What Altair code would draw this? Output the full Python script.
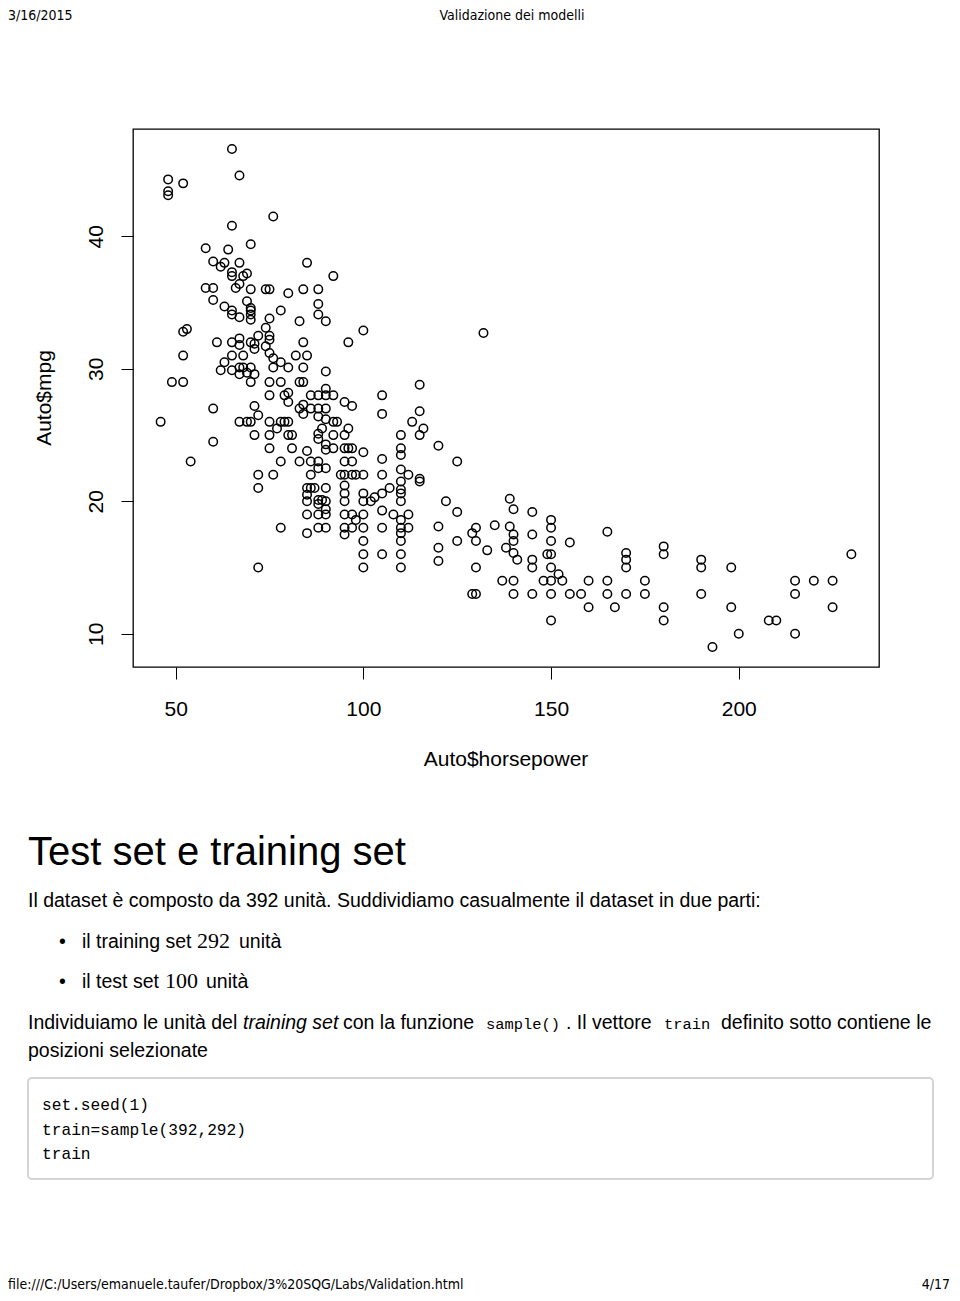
import altair as alt
import pandas as pd

# ---------------- data (Auto$horsepower vs Auto$mpg) -------------
hp_a = [65, 67, 48, 52, 48, 48, 76, 65, 70, 58, 64, 60, 63, 62, 67, 85, 65, 65, 69, 68,
        67, 92, 58, 60, 66, 70, 74, 75, 80, 84, 88, 60, 63, 65, 65, 69, 70, 70, 70, 70,
        67, 78, 75, 88, 88, 83, 90]
mpg_a = [46.6, 44.6, 44.3, 44.0, 43.4, 43.1, 41.5, 40.8, 39.4, 39.1, 39.0, 38.1, 38.0, 37.7, 38.0, 38.0, 37.3, 37.0, 37.2, 37.0,
         36.4, 37.0, 36.1, 36.1, 36.1, 36.0, 36.0, 36.0, 35.7, 36.0, 36.0, 35.2, 34.7, 34.4, 34.1, 35.1, 34.6, 34.4, 34.1, 33.7,
         33.9, 34.4, 33.8, 34.9, 34.1, 33.6, 33.6]

hp_b = [52, 53, 74, 61, 65, 67, 67, 70, 71, 71, 72, 75, 75, 74, 75, 84, 65, 68, 52, 82,
        85, 76, 78, 63, 62, 65, 67, 68, 70, 67, 69, 70, 71, 76, 80, 84, 90, 49, 52, 75,
        78, 83, 84, 75, 79, 80, 80, 83, 86, 88, 90, 92, 90, 60, 71, 72, 84, 84, 86, 88,
        90, 88, 90, 46, 67, 69, 70, 75, 78, 79, 80, 77, 92, 93, 89, 88, 88, 71, 75, 80,
        81, 92, 60, 75, 81, 85, 90, 90, 92, 54, 78, 83, 86, 88, 88, 90, 72, 76, 86, 72,
        85, 86, 87, 90, 85, 85, 88, 89, 90, 88, 85, 88, 90, 90]
mpg_b = [32.8, 33.0, 33.1, 32.0, 32.0, 32.3, 31.8, 32.0, 31.9, 31.5, 32.5, 32.5, 32.2, 31.7, 31.2, 32.0, 31.0, 31.0, 31.0, 31.0,
         31.0, 30.8, 30.5, 30.5, 29.9, 29.9, 30.1, 30.1, 30.1, 29.6, 29.7, 29.0, 29.6, 30.1, 30.1, 30.1, 29.8, 29.0, 29.0, 29.0,
         29.0, 29.0, 29.0, 28.0, 28.0, 28.2, 27.5, 27.0, 28.0, 28.0, 28.0, 28.0, 28.5, 27.0, 27.2, 26.5, 27.3, 26.6, 27.0, 27.0,
         27.0, 26.4, 26.2, 26.0, 26.0, 26.0, 26.0, 26.0, 26.0, 26.0, 26.0, 25.5, 26.0, 26.0, 25.5, 25.1, 24.7, 25.0, 25.0, 25.0,
         25.0, 25.0, 24.5, 24.0, 24.0, 23.8, 24.3, 23.9, 24.0, 23.0, 23.0, 23.0, 23.0, 23.0, 22.5, 22.5, 22.0, 22.0, 22.0, 21.0,
         21.0, 21.0, 21.0, 21.0, 20.5, 20.0, 20.1, 20.1, 20.0, 19.8, 19.0, 19.0, 19.0, 19.4]

hp_c = [100, 96, 132, 95, 97, 105, 105, 115, 115, 113, 116]
mpg_c = [32.9, 32.0, 32.7, 27.5, 27.2, 28.0, 26.6, 28.8, 26.8, 26.0, 25.5]

hp_d = [96, 115, 95, 110, 120, 125, 95, 96, 97, 100, 110, 110, 105, 95, 97, 94, 95, 97, 98, 100,
        105, 110, 112, 115, 115, 95, 95, 95, 100, 100, 110, 110, 110, 110, 107, 105, 103, 102, 122, 125,
        139, 140, 95, 97, 100, 98, 105, 108, 110, 112, 110, 112, 110, 110, 88, 90, 95, 95, 97, 100,
        105, 120, 130, 129, 130, 135, 139, 140, 140, 138, 140, 141, 125, 133, 100, 100, 100, 105, 110, 110,
        120, 120, 130, 137, 140, 78, 72, 85]
mpg_d = [25.5, 25.0, 25.0, 25.0, 24.2, 23.0, 24.0, 24.0, 24.0, 23.7, 24.0, 23.5, 23.2, 23.0, 23.0, 22.0, 22.0, 22.0, 22.0, 22.0,
         22.0, 22.4, 22.0, 21.7, 21.5, 21.2, 20.6, 20.0, 20.6, 20.0, 21.5, 20.9, 20.6, 20.0, 21.0, 20.6, 20.3, 20.0, 20.0, 19.2,
         20.2, 19.4, 19.0, 19.0, 19.0, 18.6, 19.3, 19.0, 18.6, 19.0, 18.0, 18.0, 17.6, 17.0, 18.0, 18.0, 18.0, 17.5, 18.0, 18.0,
         18.0, 18.1, 18.0, 17.6, 17.0, 18.2, 18.1, 17.5, 17.0, 16.5, 16.1, 15.6, 17.0, 16.3, 17.0, 16.0, 15.0, 16.0, 16.0, 15.0,
         16.5, 15.5, 15.0, 14.0, 14.0, 18.0, 15.0, 17.6]

hp_e = [145, 145, 145, 145, 150, 150, 150, 149, 150, 150, 155, 152, 165, 170, 170, 170, 180, 180, 190, 190,
        198, 230, 148, 150, 153, 160, 165, 175, 215, 220, 225, 129, 130, 140, 145, 150, 155, 158, 165, 170,
        175, 190, 215, 160, 167, 180, 198, 225, 150, 180, 208, 210, 200, 215, 193]
mpg_e = [19.2, 17.5, 15.6, 15.0, 18.6, 18.0, 17.0, 16.0, 16.0, 15.0, 16.9, 14.5, 17.7, 16.1, 15.6, 15.0, 16.6, 16.0, 15.6, 15.0,
         15.0, 16.0, 14, 14, 14, 14, 14, 14, 14, 14, 14, 13, 13, 13, 13, 13, 13, 13, 13, 13,
         13, 13, 13, 12, 12, 12, 12, 12, 11, 11, 11, 11, 10, 10, 9]

x_ticks = [50, 100, 150, 200]
y_ticks = [10, 20, 30, 40]
x_domain = [38.64, 237.36]
y_domain = [7.496, 48.104]

df = pd.DataFrame({
    "horsepower": hp_a + hp_b + hp_c + hp_d + hp_e,
    "mpg": mpg_a + mpg_b + mpg_c + mpg_d + mpg_e,
})

# ---------------- layout ----------------
W, H = 746, 538          # plot area
OX, OY = 133, 129        # page position of plot area
PAD = {"left": OX - 8, "top": OY - 8, "right": 944 - (OX - 8) - W, "bottom": 1285 - (OY - 8) - H}

SANS = "Liberation Sans, Arial, Helvetica, sans-serif"
NARROW = "Liberation Sans Narrow, Arial Narrow, DejaVu Sans Condensed, Liberation Sans, sans-serif"
SERIF = "Liberation Serif, Times New Roman, serif"
MONO = "Liberation Mono, DejaVu Sans Mono, monospace"

scatter = alt.Chart(df).mark_point(
    shape="circle", filled=False, size=72, strokeWidth=1.5, color="black", opacity=1
).encode(
    x=alt.X("horsepower:Q",
            scale=alt.Scale(domain=x_domain, nice=False, zero=False),
            axis=alt.Axis(values=x_ticks, title=None, grid=False, domain=False,
                          tickSize=12, tickColor="black", tickWidth=1,
                          labelFont=SANS, labelFontSize=21, labelColor="black",
                          labelBaseline="alphabetic", labelPadding=36, labelFlush=False)),
    y=alt.Y("mpg:Q",
            scale=alt.Scale(domain=y_domain, nice=False, zero=False),
            axis=alt.Axis(values=y_ticks, title=None, grid=False, domain=False,
                          tickSize=12, tickColor="black", tickWidth=1,
                          labelFont=SANS, labelFontSize=21, labelColor="black",
                          labelAngle=270, labelAlign="center", labelBaseline="alphabetic",
                          labelPadding=19, labelFlush=False)),
)


def txt(s, px, py, size, font=SANS, style="normal", angle=0, align="left", color="black"):
    return alt.Chart(pd.DataFrame({"t": [s]})).mark_text(
        align=align, baseline="alphabetic", font=font, fontSize=size,
        fontStyle=style, angle=angle, color=color
    ).encode(text="t:N", x=alt.value(px - OX), y=alt.value(py - OY))


code_box = alt.Chart(pd.DataFrame({"k": [0]})).mark_rect(
    fill="#ffffff", stroke="#d4d4d4", strokeWidth=2, cornerRadius=4
).encode(x=alt.value(28 - OX), x2=alt.value(933 - OX),
         y=alt.value(1078 - OY), y2=alt.value(1179 - OY))

texts = [
    # page header / footer
    txt("3/16/2015", 8, 20, 14, NARROW),
    txt("Validazione dei modelli", 512, 20, 14, NARROW, align="center"),
    txt("file:///C:/Users/emanuele.taufer/Dropbox/3%20SQG/Labs/Validation.html", 8, 1289, 14, NARROW),
    txt("4/17", 950, 1289, 14, NARROW, align="right"),
    # axis titles
    txt("Auto$mpg", 51, OY + H / 2, 21, angle=270, align="center"),
    txt("Auto$horsepower", OX + W / 2, 766, 21, align="center"),
    # document text
    txt("Test set e training set", 28, 865, 40),
    txt("Il dataset è composto da 392 unità. Suddividiamo casualmente il dataset in due parti:", 28, 907, 19.5),
    txt("•", 59, 948, 19.5),
    txt("il training set", 82, 948, 19.5),
    txt("292", 197, 948, 22, SERIF),
    txt("unità", 239, 948, 19.5),
    txt("•", 59, 988, 19.5),
    txt("il test set", 82, 988, 19.5),
    txt("100", 165, 988, 22, SERIF),
    txt("unità", 206, 988, 19.5),
    txt("Individuiamo le unità del", 28, 1029, 19.5),
    txt("training set", 243, 1029, 19.5, style="italic"),
    txt("con la funzione", 343, 1029, 19.5),
    txt("sample()", 486, 1029, 15.4, MONO),
    txt(". Il vettore", 566, 1029, 19.5),
    txt("train", 664, 1029, 15.4, MONO),
    txt("definito sotto contiene le", 721, 1029, 19.5),
    txt("posizioni selezionate", 28, 1057, 19.5),
    # code block
    txt("set.seed(1)", 42, 1110, 16.2, MONO),
    txt("train=sample(392,292)", 42, 1135, 16.2, MONO),
    txt("train", 42, 1159, 16.2, MONO),
]

chart = alt.layer(scatter, code_box, *texts).properties(
    width=W, height=H,
    autosize=alt.AutoSizeParams(type="none"),
    padding=PAD,
    background="white",
).configure_view(stroke="black", strokeWidth=1.3)

chart.save("out.html", embed_options={"renderer": "svg", "actions": False})
